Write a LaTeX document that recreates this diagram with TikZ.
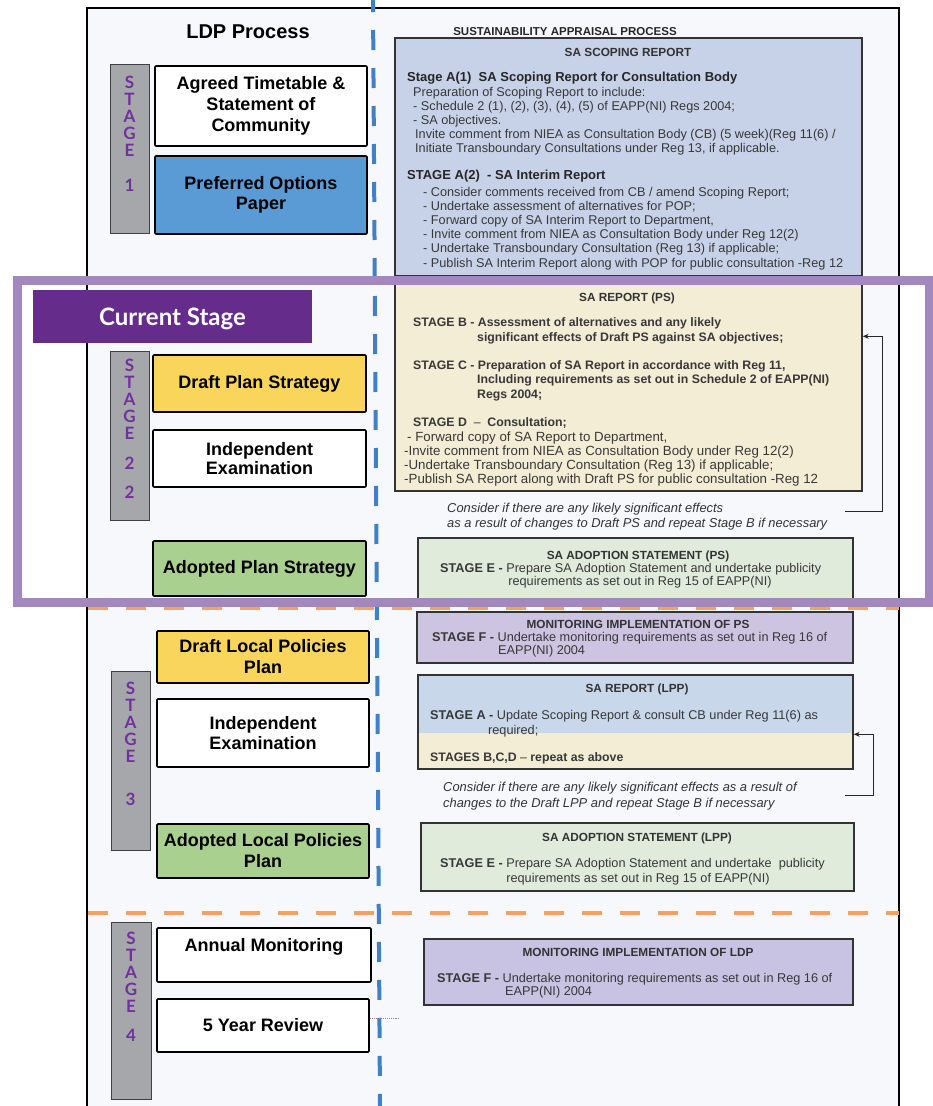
\documentclass[tikz,border=0pt]{standalone}
\usepackage{fontspec}
\setmainfont{Liberation Sans}
\newfontfamily\lato{Lato}
\usetikzlibrary{arrows.meta}
\definecolor{pframe}{HTML}{A387BF}
\definecolor{banner}{HTML}{662C8C}
\definecolor{stxt}{HTML}{7030A0}
\definecolor{bargray}{HTML}{A6A7AA}
\definecolor{lblue}{HTML}{5B9BD5}
\definecolor{lyellow}{HTML}{F9D55B}
\definecolor{lgreen}{HTML}{A9D08E}
\definecolor{scop}{HTML}{C7D2E8}
\definecolor{cream}{HTML}{F3EDD6}
\definecolor{pgreen}{HTML}{E0EBDC}
\definecolor{lav}{HTML}{CCC4E1}
\definecolor{lav2}{HTML}{C8C3E3}
\definecolor{lpptop}{HTML}{C9D7EA}
\definecolor{txt}{HTML}{383838}
\definecolor{bdash}{HTML}{3F80C8}
\definecolor{odash}{HTML}{F2A266}
\definecolor{panel}{HTML}{F7F8FB}
\begin{document}
\begin{tikzpicture}[x=1pt,y=-1pt,
  lbox/.style={draw=black, line width=1.6pt, rounded corners=1pt, minimum width=212pt, align=center,
    font=\fontsize{18}{21}\selectfont\bfseries, inner sep=0pt},
  stbar/.style={draw=black!75, line width=1pt, fill=bargray, minimum width=39pt, inner sep=0pt},
  stl/.style={font={\lato\fontsize{17}{17}\selectfont\bfseries}, text=stxt, anchor=base, inner sep=0pt},
  rbox/.style={draw=black!80, line width=1.4pt, inner sep=0pt},
  rt/.style={font=\fontsize{12.7}{14}\selectfont, text=txt, anchor=base west, inner sep=0pt},
  rtp/.style={rt, font=\fontsize{13.3}{14}\selectfont},
  rb/.style={rt, font=\fontsize{12.3}{14}\selectfont\bfseries},
  rh/.style={font=\fontsize{13}{15}\selectfont\bfseries, text=black!85, anchor=base west, inner sep=0pt},
  rtitle/.style={font=\fontsize{11.8}{13}\selectfont\bfseries, text=black!80, anchor=base, inner sep=0pt},
  note/.style={font=\fontsize{12.9}{14}\selectfont\itshape, text=black!80, anchor=base west, inner sep=0pt},
  fb/.style={draw=black!85, line width=0.9pt, -{Stealth[length=6pt,width=5pt]}}
]
\useasboundingbox (0,0) rectangle (932,1106);
\fill[white] (0,0) rectangle (932,1106);
\fill[panel] (87,8) rectangle (899,1106);
% frame
\draw[black, line width=2pt] (87,1106) -- (87,8) -- (899,8) -- (899,1106);
% dashed separators
\draw[bdash, line width=4pt, dash pattern=on 20pt off 18pt, dash phase=8pt] (373,0) -- (380,1106);
\draw[odash, line width=4pt, dash pattern=on 20pt off 18pt] (88,607.5) -- (899,607.5);
\draw[odash, line width=4.5pt, dash pattern=on 20pt off 18pt] (88,913) -- (899,913);

% titles
\node[font=\fontsize{20}{24}\selectfont\bfseries, anchor=base, inner sep=0pt] (ldp) at (248,38) {LDP Process};
\node[font=\fontsize{11.5}{13}\selectfont\bfseries, text=black!85, anchor=base, inner sep=0pt] (sap) at (565,35) {SUSTAINABILITY APPRAISAL PROCESS};

% stage bars
\node[stbar, minimum height=169pt] (st1) at (129.5,148.5) {};
\node[stbar, minimum height=169pt] (st2) at (129.5,435.5) {};
\node[stbar, minimum height=179pt] (st3) at (130.5,760.5) {};
\node[stbar, minimum width=40pt, minimum height=177pt] (st4) at (131,1010.5) {};
\foreach \l [count=\i] in {S,T,A,G,E}{
  \node[stl] (sa\i) at (129.5,{88.5+(\i-1)*17}) {\l};
  \node[stl] (sb\i) at (129.5,{371.5+(\i-1)*17}) {\l};
  \node[stl] (sc\i) at (130.5,{694.5+(\i-1)*17}) {\l};
  \node[stl] (sd\i) at (131,{944.5+(\i-1)*17}) {\l};
}
\node[stl] (na) at (129.5,191) {1};
\node[stl] (nb1) at (129.5,469) {2};
\node[stl] (nb2) at (129.5,498) {2};
\node[stl] (nc) at (130.5,805) {3};
\node[stl] (nd) at (131,1041) {4};

% left boxes
\node[lbox, fill=white, minimum height=80pt] (agr) at (261,106) {Agreed Timetable \&\\Statement of\\Community};
\node[lbox, fill=lblue, minimum height=78pt, font=\fontsize{18}{20}\selectfont\bfseries] (pop) at (261,195) {Preferred Options\\Paper};
\node[lbox, fill=lyellow, minimum width=213pt, minimum height=57pt] (dps) at (259.5,383.5) {Draft Plan Strategy};
\node[lbox, fill=white, minimum width=213pt, minimum height=57pt, font=\fontsize{18}{19.7}\selectfont\bfseries] (ie2) at (259.5,458.5) {Independent\\Examination};
\node[lbox, fill=lgreen, minimum width=213pt, minimum height=55pt] (aps) at (259.5,568.5) {Adopted Plan Strategy};
\node[lbox, fill=lyellow, minimum height=52pt] (dlpp) at (263,657) {Draft Local Policies\\Plan};
\node[lbox, fill=white, minimum height=68pt, font=\fontsize{18}{19.5}\selectfont\bfseries] (ie3) at (263,733) {Independent\\Examination};
\node[lbox, fill=lgreen, minimum height=54pt] (alpp) at (263,851) {Adopted Local Policies\\Plan};
\node[lbox, fill=white, minimum width=214pt, minimum height=54pt] (am) at (264,955) {};
\node[font=\fontsize{18}{21}\selectfont\bfseries, anchor=base, inner sep=0pt] (amt) at (264,951.5) {Annual Monitoring};
\node[lbox, fill=white, minimum height=53pt] (fyr) at (263,1025.5) {5 Year Review};
\coordinate (dotend) at (400,1018);
\draw[black!45, line width=0.9pt, densely dotted] ([yshift=7.5pt]fyr.east) -- (dotend);

% right boxes
\node[rbox, fill=scop, minimum width=467pt, minimum height=238pt] (scopbox) at (628.5,157) {};
\node[rbox, fill=cream, minimum width=467pt, minimum height=209pt] (psbox) at (628.5,386.5) {};
\node[rbox, fill=pgreen, line width=2.2pt, minimum width=435pt, minimum height=62pt] (adps) at (635.5,569) {};
\node[rbox, fill=lav, minimum width=436pt, minimum height=51pt] (monps) at (635,637.5) {};
\fill[lpptop] (418,675) rectangle (853,733);
\fill[cream] (418,733) rectangle (853,769);
\node[rbox, minimum width=435pt, minimum height=94pt] (lpp) at (635.5,722) {};
\node[rbox, fill=pgreen, line width=2.2pt, minimum width=433pt, minimum height=68pt] (adlpp) at (637.5,857) {};
\node[rbox, fill=lav2, minimum width=429pt, minimum height=66pt] (monldp) at (638.5,972) {};

% scoping text
\node[rtitle] (s0) at (628,56) {SA SCOPING REPORT};
\node[rh] (s1) at (407,81.5) {Stage A(1)\ \ SA Scoping Report for Consultation Body};
\node[rt] (s2) at (413,96) {Preparation of Scoping Report to include:};
\node[rt] (s3) at (413,110.1) {- Schedule 2 (1), (2), (3), (4), (5) of EAPP(NI) Regs 2004;};
\node[rt] (s4) at (413,124.2) {- SA objectives.};
\node[rt] (s5) at (415,138.3) {Invite comment from NIEA as Consultation Body (CB) (5 week)(Reg 11(6) /};
\node[rt] (s6) at (415,152.4) {Initiate Transboundary Consultations under Reg 13, if applicable.};
\node[rh] (s7) at (407,179.5) {STAGE A(2)\ \ - SA Interim Report};
\node[rt] (s8) at (423,196) {- Consider comments received from CB / amend Scoping Report;};
\node[rt] (s9) at (423,210.2) {- Undertake assessment of alternatives for POP;};
\node[rt] (s10) at (423,224.4) {- Forward copy of SA Interim Report to Department,};
\node[rt] (s11) at (423,238.6) {- Invite comment from NIEA as Consultation Body under Reg 12(2)};
\node[rt] (s12) at (423,252.8) {- Undertake Transboundary Consultation (Reg 13) if applicable;};
\node[rt] (s13) at (423,267) {- Publish SA Interim Report along with POP for public consultation -Reg 12};

% PS text
\node[rtitle] (p0) at (627,301) {SA REPORT (PS)};
\node[rb] (p1) at (413,326) {STAGE B - Assessment of alternatives and any likely};
\node[rb] (p2) at (477,341) {significant effects of Draft PS against SA objectives;};
\node[rb] (p3) at (413,369) {STAGE C - Preparation of SA Report in accordance with Reg 11,};
\node[rb] (p4) at (477,383.5) {Including requirements as set out in Schedule 2 of EAPP(NI)};
\node[rb] (p5) at (477,398) {Regs 2004;};
\node[rb] (p6) at (413,426) {STAGE D\ \ {\mdseries --}\ \ Consultation;};
\node[rtp] (p7) at (407,441) {- Forward copy of SA Report to Department,};
\node[rtp] (p8) at (404,455) {-Invite comment from NIEA as Consultation Body under Reg 12(2)};
\node[rtp] (p9) at (404,469) {-Undertake Transboundary Consultation (Reg 13) if applicable;};
\node[rtp] (p10) at (404,483) {-Publish SA Report along with Draft PS for public consultation -Reg 12};
\node[note] (n1) at (447,512) {Consider if there are any likely significant effects};
\node[note] (n2) at (447,527) {as a result of changes to Draft PS and repeat Stage B if necessary};
\coordinate (fbA) at (845,511);
\draw[fb] (fbA) -- ++(37,0) |- ([yshift=-55pt]psbox.north east);

% adoption PS
\node[rtitle] (a0) at (638,559) {SA ADOPTION STATEMENT (PS)};
\node[rt] (a1) at (440,572) {{\bfseries STAGE E -} Prepare SA Adoption Statement and undertake publicity};
\node[rt, anchor=base] (a2) at (640,585) {requirements as set out in Reg 15 of EAPP(NI)};

% monitoring PS
\node[rtitle] (m0) at (638,628) {MONITORING IMPLEMENTATION OF PS};
\node[rt] (m1) at (432,641) {{\bfseries STAGE F -} Undertake monitoring requirements as set out in Reg 16 of};
\node[rt] (m2) at (498,654) {EAPP(NI) 2004};

% LPP
\node[rtitle] (l0) at (637,692) {SA REPORT (LPP)};
\node[rt] (l1) at (430,719) {{\bfseries STAGE A -} Update Scoping Report \& consult CB under Reg 11(6) as};
\node[rt] (l2) at (488,734) {required;};
\node[rb] (l3) at (430,761) {STAGES B,C,D {\mdseries --} repeat as above};
\node[note] (n3) at (443,791) {Consider if there are any likely significant effects as a result of};
\node[note] (n4) at (443,807) {changes to the Draft LPP and repeat Stage B if necessary};
\coordinate (fbB) at (845,795);
\draw[fb] (fbB) -- ++(28,0) |- ([yshift=-60pt]lpp.north east);

% adoption LPP
\node[rtitle] (b0) at (637,841) {SA ADOPTION STATEMENT (LPP)};
\node[rt] (b1) at (440,867) {{\bfseries STAGE E -} Prepare SA Adoption Statement and undertake\ \ publicity};
\node[rt, anchor=base] (b2) at (638,882) {requirements as set out in Reg 15 of EAPP(NI)};

% monitoring LDP
\node[rtitle] (c0) at (638,956) {MONITORING IMPLEMENTATION OF LDP};
\node[rt] (c1) at (437,982) {{\bfseries STAGE F -} Undertake monitoring requirements as set out in Reg 16 of};
\node[rt] (c2) at (505,995) {EAPP(NI) 2004};

% current stage frame
\draw[pframe, line width=9pt] (17,280) rectangle (929,602.5);
\node[fill=banner, minimum width=279pt, minimum height=53pt, inner sep=0pt, text=white,
  font={\lato\fontsize{24}{28}\selectfont\bfseries}, text height=17pt, text depth=0pt] (cs) at (172.5,316.5) {Current Stage};
\end{tikzpicture}
\end{document}
